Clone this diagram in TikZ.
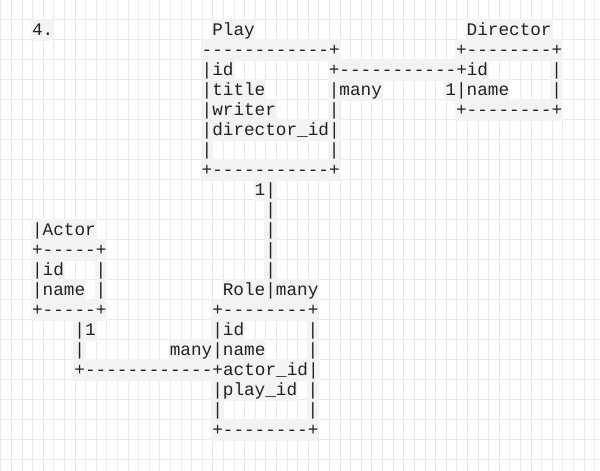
\documentclass[tikz,border=0pt]{standalone}
\usepackage{fontspec}
\setmonofont{Liberation Mono}
\usepackage{tikz}
\definecolor{gridgray}{HTML}{E9E9E9}
\definecolor{codebg}{HTML}{F3F3F3}
\definecolor{ink}{HTML}{222222}

\begin{document}
\begin{tikzpicture}
[
x=7.95pt, y=-15pt,
gridline/.style={draw=gridgray, line width=0.75pt},
chunk/.style={anchor=base west, inner xsep=0.75pt, inner ysep=0pt, xshift=-0.75pt, yshift=-11.625pt,
  text height=12.75pt, text depth=3.75pt, fill=codebg, text=ink,
  font=\ttfamily\fontsize{13.27pt}{15pt}\selectfont}
]
%Paper
\fill[white] (0,0) rectangle (56.604,23.55);
\useasboundingbox (0,0) rectangle (56.604,23.55);
\foreach \i in {0,...,56} \draw[gridline] (\i+0.094,0) -- (\i+0.094,23.55);
\foreach \j in {0,...,22} \draw[gridline] (0,\j+0.95) -- (56.604,\j+0.95);

%Nodes
\node[chunk] (num)        at (3,1)  {4.};
\node[chunk] (play)       at (20,1) {Play};
\node[chunk] (director)   at (44,1) {Director};

\node[chunk] (play_top)   at (19,2) {------------+};
\node[chunk] (dir_top)    at (43,2) {+--------+};

\node[chunk] (play_id)    at (19,3) {|id};
\node[chunk] (dir_id)     at (31,3) {+-----------+id};
\node[chunk] (dir_r1)     at (52,3) {|};

\node[chunk] (play_title) at (19,4) {|title};
\node[chunk] (many_dir)   at (31,4) {|many};
\node[chunk] (dir_name)   at (42,4) {1|name};
\node[chunk] (dir_r2)     at (52,4) {|};

\node[chunk] (play_writer) at (19,5) {|writer};
\node[chunk] (play_r1)    at (31,5) {|};
\node[chunk] (dir_bot)    at (43,5) {+--------+};

\node[chunk] (play_dir)   at (19,6) {|director\_id|};

\node[chunk] (play_l)     at (19,7) {|};
\node[chunk] (play_r2)    at (31,7) {|};

\node[chunk] (play_bot)   at (19,8) {+-----------+};

\node[chunk] (one_play)   at (24,9) {1|};
\foreach \r in {10,...,13}
  \node[chunk] (link\r) at (25,\r) {|};

\node[chunk] (actor)      at (3,11) {|Actor};
\node[chunk] (actor_top)  at (3,12) {+-----+};
\node[chunk] (actor_id)   at (3,13) {|id};
\node[chunk] (actor_r1)   at (9,13) {|};
\node[chunk] (actor_name) at (3,14) {|name};
\node[chunk] (actor_r2)   at (9,14) {|};
\node[chunk] (actor_bot)  at (3,15) {+-----+};

\node[chunk] (role)       at (21,14) {Role|many};
\node[chunk] (role_top)   at (20,15) {+--------+};
\node[chunk] (role_id)    at (20,16) {|id};
\node[chunk] (role_r1)    at (29,16) {|};
\node[chunk] (one_actor)  at (7,16)  {|1};
\node[chunk] (link_a)     at (7,17)  {|};
\node[chunk] (role_name)  at (16,17) {many|name};
\node[chunk] (role_r2)    at (29,17) {|};
\node[chunk] (role_actor) at (7,18)  {+------------+actor\_id|};
\node[chunk] (role_play)  at (20,19) {|play\_id};
\node[chunk] (role_r3)    at (29,19) {|};
\node[chunk] (role_l)     at (20,20) {|};
\node[chunk] (role_r4)    at (29,20) {|};
\node[chunk] (role_bot)   at (20,21) {+--------+};
\end{tikzpicture}
\end{document}
